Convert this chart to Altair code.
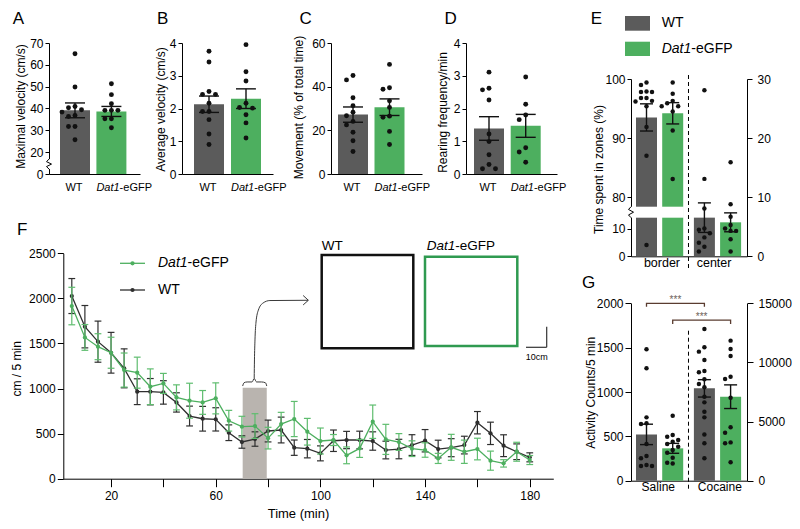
import altair as alt
import numpy as np
import pandas as pd

FONT = "Liberation Sans"
GRAY = "#5b5b5b"
GREEN = "#4daf5f"
GREEN_ERR = "#5fbd6f"
INK = "#111111"
WT_LINE = "#2f2f2f"
BOX_GRAY = "#b9b4af"
BRACKET = "#5a3c30"
GENO = ["WT", "Dat1-eGFP"]
ONE = pd.DataFrame({"k": [0]})
W_ALL, H_ALL = 784, 515      # whole drawing area (page minus 8px margin)
OX, OY = 8, 8                # page margin

# ---------------- data ----------------
A_WT = [65.1, 49.8, 40.9, 40.3, 39.4, 38.3, 36.8, 36.3, 31.7, 31.7, 25.6]
A_GFP = [51.3, 46.3, 42.1, 39.1, 39.1, 39.1, 35.2, 35.2, 31.1]
A_MEAN = [39.1, 38.6]
A_SEM = [3.4, 2.3]
B_WT = [3.75, 3.42, 2.52, 2.43, 2.43, 2.16, 1.91, 1.91, 1.66, 1.22, 0.90]
B_GFP = [3.95, 3.12, 2.84, 2.16, 2.03, 2.01, 1.81, 1.56, 1.10]
B_MEAN = [2.13, 2.30]
B_SEM = [0.25, 0.30]
C_WT = [45.1, 43.1, 34.9, 31.3, 28.3, 26.7, 24.1, 22.5, 19.1, 15.2, 10.3]
C_GFP = [50.2, 39.5, 38.8, 33.5, 30.5, 26.5, 26.0, 19.5, 13.5]
C_MEAN = [27.2, 30.6]
C_SEM = [3.5, 3.8]
D_WT = [3.11, 2.62, 2.57, 2.26, 1.22, 0.99, 0.59, 0.29, 0.16, 0.16]
D_GFP = [2.96, 2.13, 1.80, 1.66, 0.80, 0.67, 0.36]
D_MEAN = [1.39, 1.47]
D_SEM = [0.36, 0.35]
E_BORDER_WT = [99.4, 99.0, 97.9, 97.8, 97.8, 96.8, 96.8, 96.3, 96.2, 95.4, 91.9, 87.0, 4.1]
E_BORDER_GFP = [99.4, 97.5, 96.3, 95.9, 95.4, 95.4, 94.5, 91.3, 83.1]
E_BORDER_MEAN = [93.5, 94.2]
E_BORDER_SEM = [2.3, 1.8]
E_CENTER_WT = [28.1, 13.1, 8.1, 4.7, 4.5, 3.9, 3.2, 2.3, 1.6, 0.8]
E_CENTER_GFP = [15.9, 8.8, 6.7, 5.3, 4.7, 4.3, 4.3, 2.9, 0.8]
E_CENTER_MEAN = [6.54, 5.75]
E_CENTER_SEM = [2.5, 1.6]
E_GROUPS = ["border", "center"]
F_TIME = [5, 10, 15, 20, 25, 30, 35, 40, 45, 50, 55, 60, 65, 70, 75, 80, 85, 90,
          95, 100, 105, 110, 115, 120, 125, 130, 135, 140, 145, 150, 155, 160, 165, 170, 175, 180]
F_WT = [2026, 1686, 1520, 1397, 1224, 965, 965, 957, 846, 695, 665, 658, 510, 407, 440, 529, 540, 344,
        333, 281, 421, 429, 429, 418, 318, 329, 373, 421, 329, 344, 373, 621, 503, 366, 299, 237]
F_WT_SEM = [194, 235, 228, 226, 216, 143, 146, 130, 107, 110, 137, 129, 87, 69, 80, 121, 143, 85,
            102, 83, 119, 96, 98, 102, 98, 108, 115, 124, 98, 100, 98, 124, 124, 121, 87, 50]
F_GFP = [1915, 1567, 1464, 1397, 1205, 1176, 1020, 1057, 902, 865, 846, 891, 643, 577, 584, 450, 606, 662,
         521, 418, 429, 259, 336, 632, 436, 407, 333, 318, 225, 348, 299, 329, 200, 170, 299, 207]
F_GFP_SEM = [208, 143, 144, 172, 189, 172, 198, 111, 139, 194, 132, 172, 115, 115, 137, 120, 130, 195,
             148, 144, 61, 93, 100, 185, 167, 93, 87, 80, 56, 144, 129, 120, 106, 41, 105, 50]
F_WINDOW_T = [70.3, 79.5]
F_WINDOW_TOP = 1009
G_SAL_WT = [1481, 1267, 714, 647, 639, 413, 278, 252, 177, 165, 165]
G_SAL_GFP = [733, 515, 496, 459, 440, 413, 383, 346, 316, 259, 203, 195]
G_SAL_MEAN = [522, 365]
G_SAL_SEM = [115, 56]
G_COC_WT = [12833, 11280, 10913, 10208, 9278, 9165, 8573, 8175, 7898, 7103, 6623, 5835, 5355, 3915, 3158, 1890]
G_COC_GFP = [11843, 11138, 10545, 8798, 8603, 7020, 4515, 4058, 3240, 3158, 1553]
G_COC_MEAN = [7808, 7103]
G_COC_SEM = [735, 1000]
G_GROUPS = ["Saline", "Cocaine"]
G_SIG = ["***", "***"]


# ---------------- helpers ----------------
def text(s, x, y, size=12, align="left", baseline="alphabetic", italic=False,
         color="black", dx=0, dy=0):
    return alt.Chart(ONE).mark_text(
        text=s, font=FONT, fontSize=size, align=align, baseline=baseline,
        fontStyle="italic" if italic else "normal", color=color, dx=dx, dy=dy
    ).encode(x=x, y=y)


def px(v):
    return alt.value(v)


def swarm(vals, to_px, unit, step=6.0, maxk=2):
    cands = [0.0]
    for k in range(1, maxk + 1):
        cands += [-k * step, k * step]
    placed, offs = [], [0.0] * len(vals)
    for i in sorted(range(len(vals)), key=lambda j: -vals[j]):
        py = float(to_px(vals[i]))
        best, bestd = 0.0, -1.0
        for ox in cands:
            d = min([float(np.hypot(ox - a, py - b)) for a, b in placed], default=1e9)
            if d >= step:
                best = ox
                break
            if d > bestd:
                best, bestd = ox, d
        placed.append((best, py))
        offs[i] = best / unit
    return offs


def bar_group(slots, means, sems, pts, xs, ys, to_px, unit, xaxis, yaxis,
              hw=15, cw=10, dot=24, step=6.5, ew=1.4, noX=False):
    b = pd.DataFrame({"g": GENO, "c": slots, "m": means, "s": sems})
    b["x1"] = b["c"] - hw / unit
    b["x2"] = b["c"] + hw / unit
    b["gx1"] = b["x1"] - 0.6 / unit
    b["gx2"] = b["x2"] + 0.6 / unit
    b["lo"] = b["m"] - b["s"]
    b["hi"] = b["m"] + b["s"]
    caps = pd.DataFrame({"a": list(b["c"] - cw / unit) * 2,
                         "b": list(b["c"] + cw / unit) * 2,
                         "y": list(b["hi"]) + list(b["lo"])})
    rows = []
    for c, vals in zip(slots, pts):
        for v, o in zip(vals, swarm(vals, to_px, unit, step)):
            rows.append({"px": c + o, "v": v})
    p = pd.DataFrame(rows)

    def X(f, **k):
        if noX:
            return alt.X(f, scale=xs, axis=None)
        return alt.X(f, scale=xs, **k)

    col = alt.Color("g:N", scale=alt.Scale(domain=GENO, range=[GRAY, GREEN]), legend=None)
    bars = alt.Chart(b).mark_bar().encode(
        x=X("x1:Q", axis=xaxis) if not noX else X("x1:Q"), x2="x2:Q",
        y=alt.Y("m:Q", scale=ys, axis=yaxis), y2=alt.datum(0), color=col)
    err = alt.Chart(b).mark_rule(color=INK, strokeWidth=ew).encode(
        x=X("c:Q"), y=alt.Y("lo:Q", scale=ys), y2="hi:Q")
    cap = alt.Chart(caps).mark_rule(color=INK, strokeWidth=ew).encode(
        x=X("a:Q"), x2="b:Q", y=alt.Y("y:Q", scale=ys))
    dots = alt.Chart(p).mark_circle(size=dot, color=INK, opacity=1).encode(
        x=X("px:Q"), y=alt.Y("v:Q", scale=ys))
    return b, bars, err, cap, dots


def axis_break(xs, ys, xmin, xpix, unit, hi, lo):
    cover = alt.Chart(ONE).mark_rule(color="white", strokeWidth=4).encode(
        x=px(xpix), y=alt.datum(hi), y2=alt.datum(lo))
    offs = [0, -2.5, 2.5, -2.5, 0]
    z = pd.DataFrame({"x": [xmin + o / unit for o in offs],
                      "y": list(np.linspace(hi, lo, len(offs))), "i": list(range(len(offs)))})
    zig = alt.Chart(z).mark_line(color="black", strokeWidth=1).encode(
        x=alt.X("x:Q", scale=xs), y=alt.Y("y:Q", scale=ys), order="i:Q")
    return [cover, zig]


def ylab_axis(orient, offset, values, title=None, tX=0, tY=0, tick=4, pad=2):
    kw = dict(orient=orient, offset=offset, values=values, format="d", tickSize=tick,
              labelPadding=pad)
    if title:
        kw.update(title=title, titleX=tX, titleY=tY, titleAngle=270, titleAlign="center",
                  titleBaseline="middle")
    else:
        kw.update(title=None)
    return alt.Axis(**kw)


# ---------------- A-D ----------------
def top_panel(letter, wt, gfp, mean, sem, ydom, yabs, yvals, title, tX, tY, letX,
              c0, unit, ax, brk=None):
    W = 91
    x0 = ax - OX
    xmin = -c0 / unit
    yr = [v - OY for v in yabs]
    xs = alt.Scale(domain=[xmin, (W - c0) / unit], range=[x0, x0 + W], nice=False, zero=False)
    ys = alt.Scale(domain=ydom, range=yr, nice=False, zero=False)
    to_px = lambda v: np.interp(v, ydom, yr)
    xaxis = alt.Axis(orient="bottom", offset=yr[0] - H_ALL, labels=False, ticks=False, title=None)
    yaxis = ylab_axis("left", -x0, yvals, title, tX, yr[-1] + tY)
    b, bars, err, cap, dots = bar_group([0, 1], mean, sem, [wt, gfp], xs, ys, to_px, unit,
                                        xaxis, yaxis)
    hw = 15 / unit
    layers = [bars, err, cap, dots]
    if brk:
        layers += axis_break(xs, ys, xmin, x0, unit, brk[0], brk[1])
    ly = yr[0] + 14
    layers += [
        text("WT", alt.datum(0), px(ly), size=11, align="center", baseline="middle", dx=-1),
        text("Dat1", alt.datum(1 - hw), px(ly), size=11, baseline="middle", italic=True),
        text("-eGFP", alt.datum(1 - hw), px(ly), size=11, baseline="middle", dx=23.2),
    ]
    return alt.layer(*layers), text(letter, px(letX - OX), px(24 - OY), size=17)


pA, lA = top_panel("A", A_WT, A_GFP, A_MEAN, A_SEM, [0, 20, 70], [174, 152, 43],
                   [0, 20, 30, 40, 50, 60, 70], "Maximal velocity (cm/s)", -29, 63, 12.7,
                   26, 36.4, 49, brk=(13.5, 4.5))
pB, lB = top_panel("B", B_WT, B_GFP, B_MEAN, B_SEM, [0, 4], [174, 43], [0, 1, 2, 3, 4],
                   "Average velocity  (cm/s)", -22, 66, 157, 27, 37.0, 182)
pC, lC = top_panel("C", C_WT, C_GFP, C_MEAN, C_SEM, [0, 60], [174, 43], [0, 20, 40, 60],
                   "Movement (% of total time)", -33, 64, 299.5, 22, 36.5, 331)
pD, lD = top_panel("D", D_WT, D_GFP, D_MEAN, D_SEM, [0, 4], [174, 43], [0, 1, 2, 3, 4],
                   "Rearing frequency/min", -24, 69, 444.5, 23, 36.7, 466)

# ---------------- E ----------------
UE = 26.2
SL, SR = [0, 1], [2.21, 3.21]
EX0, EX1 = 631 - OX, 747 - OX
XDOM_E = [-15.5 / UE, (116 - 15.5) / UE]
xsE = alt.Scale(domain=XDOM_E, range=[EX0, EX1], nice=False, zero=False)
E_LDOM = [0, 14, 78.4, 100]
E_LRNG = [256.3 - OY, 217.7 - OY, 206.7 - OY, 79 - OY]
E_RRNG = [256.3 - OY, 79 - OY]
ysEL = alt.Scale(domain=E_LDOM, range=E_LRNG, nice=False, zero=False)
ysER = alt.Scale(domain=[0, 30], range=E_RRNG, nice=False, zero=False)
xaxisE = alt.Axis(orient="bottom", offset=E_LRNG[0] - H_ALL, labels=False, ticks=False, title=None)
yaxisEL = ylab_axis("left", -EX0, [0, 10, 80, 90, 100], "Time spent in zones (%)", -33, E_LRNG[-1] + 90)
yaxisER = ylab_axis("right", EX1 - W_ALL, [0, 10, 20, 30], tick=5, pad=5)
bEL, barsEL, errEL, capEL, dotsEL = bar_group(
    SL, E_BORDER_MEAN, E_BORDER_SEM, [E_BORDER_WT, E_BORDER_GFP], xsE, ysEL,
    lambda v: np.interp(v, E_LDOM, E_LRNG), UE, xaxisE, yaxisEL, hw=10.5, cw=6.5, dot=20, step=5.5)
gapE = alt.Chart(bEL).mark_bar(color="white").encode(
    x=alt.X("gx1:Q", scale=xsE), x2="gx2:Q", y=alt.datum(78.4), y2=alt.datum(14))
dashE = alt.Chart(ONE).mark_rule(color="black", strokeWidth=1, strokeDash=[4, 3]).encode(
    x=alt.datum(1.603), y=px(75 - OY), y2=px(268 - OY))
leftE = alt.layer(barsEL, gapE, errEL, capEL, dotsEL,
                  *axis_break(xsE, ysEL, XDOM_E[0], EX0, UE, 78.2, 14.2), dashE,
                  text(E_GROUPS[0], alt.datum(0.59), px(E_LRNG[0] + 1), size=12.5, align="center", baseline="top"),
                  text(E_GROUPS[1], alt.datum(2.58), px(E_LRNG[0] + 1), size=12.5, align="center", baseline="top"))
bER, barsER, errER, capER, dotsER = bar_group(
    SR, E_CENTER_MEAN, E_CENTER_SEM, [E_CENTER_WT, E_CENTER_GFP], xsE, ysER,
    lambda v: np.interp(v, [0, 30], E_RRNG), UE, None, yaxisER, hw=10.5, cw=6.5, dot=20, step=5.5, noX=True)
rightE = alt.layer(barsER, errER, capER, dotsER)
annE = [
    text("E", px(590.7 - OX), px(24 - OY), size=17),
    alt.Chart(ONE).mark_rect(color=GRAY).encode(x=px(625 - OX), x2=px(650 - OX), y=px(16 - OY), y2=px(30.7 - OY)),
    alt.Chart(ONE).mark_rect(color=GREEN).encode(x=px(625 - OX), x2=px(650 - OX), y=px(41.7 - OY), y2=px(56 - OY)),
    text("WT", px(661.7 - OX), px(23.3 - OY), size=14, baseline="middle"),
    text("Dat1", px(661.7 - OX), px(49 - OY), size=14, baseline="middle", italic=True),
    text("-eGFP", px(661.7 - OX), px(49 - OY), size=14, baseline="middle", dx=29.6),
]

# ---------------- G ----------------
G_LRNG = [480.7 - OY, 303.3 - OY]
ysGL = alt.Scale(domain=[0, 2000], range=G_LRNG, nice=False, zero=False)
ysGR = alt.Scale(domain=[0, 15000], range=G_LRNG, nice=False, zero=False)
xaxisG = alt.Axis(orient="bottom", offset=G_LRNG[0] - H_ALL, labels=False, ticks=False, title=None)
yaxisGL = ylab_axis("left", -EX0, [0, 500, 1000, 1500, 2000], "Activity Counts/5 min", -41,
                    G_LRNG[1] + 89, tick=6, pad=2)
yaxisGR = ylab_axis("right", EX1 - W_ALL, [0, 5000, 10000, 15000], tick=6, pad=5)
bGL, barsGL, errGL, capGL, dotsGL = bar_group(
    SL, G_SAL_MEAN, G_SAL_SEM, [G_SAL_WT, G_SAL_GFP], xsE, ysGL,
    lambda v: np.interp(v, [0, 2000], G_LRNG), UE, xaxisG, yaxisGL, hw=10.5, cw=6.5, dot=20, step=5.5)
brkG = pd.DataFrame({
    "x": [0, 0, 2.21, 2.21, 1, 1, 3.21, 3.21],
    "y": [1960, 2000, 2000, 1960, 1766, 1811, 1811, 1766],
    "k": ["a"] * 4 + ["b"] * 4,
    "i": [0, 1, 2, 3] * 2})
bracketsG = alt.Chart(brkG).mark_line(color=BRACKET, strokeWidth=1.3).encode(
    x=alt.X("x:Q", scale=xsE), y=alt.Y("y:Q", scale=ysGL), detail="k:N", order="i:Q")
dashG = alt.Chart(ONE).mark_rule(color="black", strokeWidth=1, strokeDash=[4, 3]).encode(
    x=alt.datum(1.603), y=alt.datum(1691), y2=px(G_LRNG[0] + 11))
leftG = alt.layer(barsGL, errGL, capGL, dotsGL, bracketsG, dashG,
                  text(G_SIG[0], alt.datum(1.105), alt.datum(2000), size=10, align="center", color="#6d5f5a"),
                  text(G_SIG[1], alt.datum(2.105), alt.datum(1811), size=10, align="center", color="#6d5f5a"),
                  text(G_GROUPS[0], alt.datum(0.45), px(G_LRNG[0] + 1.5), size=12, align="center", baseline="top"),
                  text(G_GROUPS[1], alt.datum(2.8), px(G_LRNG[0] + 1.5), size=12, align="center", baseline="top"))
bGR, barsGR, errGR, capGR, dotsGR = bar_group(
    SR, G_COC_MEAN, G_COC_SEM, [G_COC_WT, G_COC_GFP], xsE, ysGR,
    lambda v: np.interp(v, [0, 15000], G_LRNG), UE, None, yaxisGR, hw=10.5, cw=6.5, dot=20, step=5.5, noX=True)
rightG = alt.layer(barsGR, errGR, capGR, dotsGR)
annG = [text("G", px(582 - OX), px(288 - OY), size=17)]

# ---------------- F ----------------
FX0, FX1 = 63.3 - OX, 553.3 - OX
FY0, FY1 = 478.7 - OY, 253.3 - OY
xsF = alt.Scale(domain=[1.75, 189], range=[FX0, FX1], nice=False, zero=False)
ysF = alt.Scale(domain=[0, 2500], range=[FY0, FY1], nice=False, zero=False)
xaxisF = alt.Axis(orient="bottom", offset=FY0 - H_ALL, values=list(range(20, 181, 20)), format="d",
                  labelExpr="datum.value % 40 == 20 ? datum.label : ''", labelFlush=False,
                  tickSize=8, labelPadding=4, title="Time (min)", titleX=298 - OX, titleY=35,
                  titleFontSize=13, titleBaseline="middle", titleAlign="center")
yaxisF = ylab_axis("left", -FX0, [0, 500, 1000, 1500, 2000, 2500], "cm / 5 min", -47, FY1 + 115,
                   tick=6, pad=2)
win = pd.DataFrame({"t0": [F_WINDOW_T[0]], "t1": [F_WINDOW_T[1]], "v0": [0], "v1": [F_WINDOW_TOP]})
boxF = alt.Chart(win).mark_rect(color=BOX_GRAY).encode(
    x=alt.X("t0:Q", scale=xsF, axis=xaxisF), x2="t1:Q",
    y=alt.Y("v0:Q", scale=ysF, axis=yaxisF), y2="v1:Q")
series_layers = []
for mean, sem, lc, ec in [(F_WT, F_WT_SEM, WT_LINE, WT_LINE), (F_GFP, F_GFP_SEM, GREEN, GREEN_ERR)]:
    d = pd.DataFrame({"t": F_TIME, "m": mean, "s": sem})
    d["lo"] = d["m"] - d["s"]
    d["hi"] = d["m"] + d["s"]
    c = pd.DataFrame({"a": list(d["t"] - 1.3) * 2, "b": list(d["t"] + 1.3) * 2,
                      "y": list(d["hi"]) + list(d["lo"])})
    series_layers += [
        alt.Chart(d).mark_rule(color=ec, strokeWidth=1.2).encode(
            x=alt.X("t:Q", scale=xsF), y=alt.Y("lo:Q", scale=ysF), y2="hi:Q"),
        alt.Chart(c).mark_rule(color=ec, strokeWidth=1.2).encode(
            x=alt.X("a:Q", scale=xsF), x2="b:Q", y=alt.Y("y:Q", scale=ysF)),
        alt.Chart(d).mark_line(color=lc, strokeWidth=1.3).encode(
            x=alt.X("t:Q", scale=xsF), y=alt.Y("m:Q", scale=ysF)),
        alt.Chart(d).mark_circle(color=lc, size=18, opacity=1).encode(
            x=alt.X("t:Q", scale=xsF), y=alt.Y("m:Q", scale=ysF)),
    ]
curve = pd.DataFrame({
    "t": [70.3, 70.8, 72.0, 73.9, 74.7, 75.6, 77.5, 79.0, 79.5,
          74.7, 74.8, 75.0, 75.4, 76.3, 78.1, 80.7, 95.3],
    "v": [1028, 1064, 1073, 1073, 1111, 1073, 1073, 1064, 1028,
          1111, 1317, 1539, 1738, 1871, 1949, 1976, 1979],
    "k": ["brace"] * 9 + ["arrow"] * 8,
    "i": list(range(9)) + list(range(8))})
curveF = alt.Chart(curve).mark_line(color="#3a3a3a", strokeWidth=1, interpolate="monotone").encode(
    x=alt.X("t:Q", scale=xsF), y=alt.Y("v:Q", scale=ysF), detail="k:N", order="i:Q")
head = pd.DataFrame({"t": [93.4, 95.4, 93.4], "v": [2032, 1979, 1927], "i": [0, 1, 2]})
headF = alt.Chart(head).mark_line(color="#3a3a3a", strokeWidth=1).encode(
    x=alt.X("t:Q", scale=xsF), y=alt.Y("v:Q", scale=ysF), order="i:Q")
pF = alt.layer(boxF, *series_layers, curveF, headF)

annF = [
    alt.Chart(ONE).mark_rect(fillOpacity=0, stroke="#111111", strokeWidth=2.5).encode(
        x=px(321.7 - OX), x2=px(413.3 - OX), y=px(255 - OY), y2=px(348.3 - OY)),
    alt.Chart(ONE).mark_rect(fillOpacity=0, stroke="#2f9a50", strokeWidth=2.5).encode(
        x=px(425 - OX), x2=px(517.3 - OX), y=px(256.7 - OY), y2=px(346 - OY)),
    text("WT", px(321.7 - OX), px(250 - OY), size=13.5),
    text("Dat1", px(426.7 - OX), px(250 - OY), size=13.5, italic=True),
    text("-eGFP", px(426.7 - OX), px(250 - OY), size=13.5, dx=28.5),
    alt.Chart(ONE).mark_rule(color="#333333", strokeWidth=1.2).encode(
        x=px(546.7 - OX), y=px(326.7 - OY), y2=px(347.3 - OY)),
    alt.Chart(ONE).mark_rule(color="#333333", strokeWidth=1.2).encode(
        x=px(526 - OX), x2=px(546.7 - OX), y=px(347.3 - OY)),
    text("10cm", px(536.7 - OX), px(360 - OY), size=9, align="center"),
    alt.Chart(ONE).mark_rule(color=GREEN, strokeWidth=1.3).encode(
        x=px(120 - OX), x2=px(145 - OX), y=px(263.3 - OY)),
    alt.Chart(ONE).mark_circle(color=GREEN, size=18, opacity=1).encode(
        x=px(132.5 - OX), y=px(263.3 - OY)),
    text("Dat1", px(158 - OX), px(263.3 - OY), size=14, baseline="middle", italic=True),
    text("-eGFP", px(158 - OX), px(263.3 - OY), size=14, baseline="middle", dx=29.6),
    alt.Chart(ONE).mark_rule(color=WT_LINE, strokeWidth=1.3).encode(
        x=px(120 - OX), x2=px(145 - OX), y=px(290 - OY)),
    alt.Chart(ONE).mark_circle(color=WT_LINE, size=18, opacity=1).encode(
        x=px(132.5 - OX), y=px(290 - OY)),
    text("WT", px(158 - OX), px(290 - OY), size=14, baseline="middle"),
    text("F", px(17 - OX), px(235 - OY), size=17),
]

# ---------------- assemble: one drawing, independent scales per panel ----------------
chart = alt.layer(
    pA, pB, pC, pD, leftE, rightE, leftG, rightG, pF,
    lA, lB, lC, lD, *annE, *annG, *annF
).resolve_scale(x="independent", y="independent").properties(
    width=W_ALL, height=H_ALL, padding=0
).configure(font=FONT).configure_view(strokeWidth=0).configure_axis(
    domainColor="black", tickColor="black", labelColor="black", titleColor="black",
    labelFont=FONT, titleFont=FONT, labelFontSize=12, titleFontSize=12,
    titleFontWeight="normal", grid=False, domainWidth=1, tickWidth=1)

chart.save("out.html", embed_options={"renderer": "svg", "actions": False})
